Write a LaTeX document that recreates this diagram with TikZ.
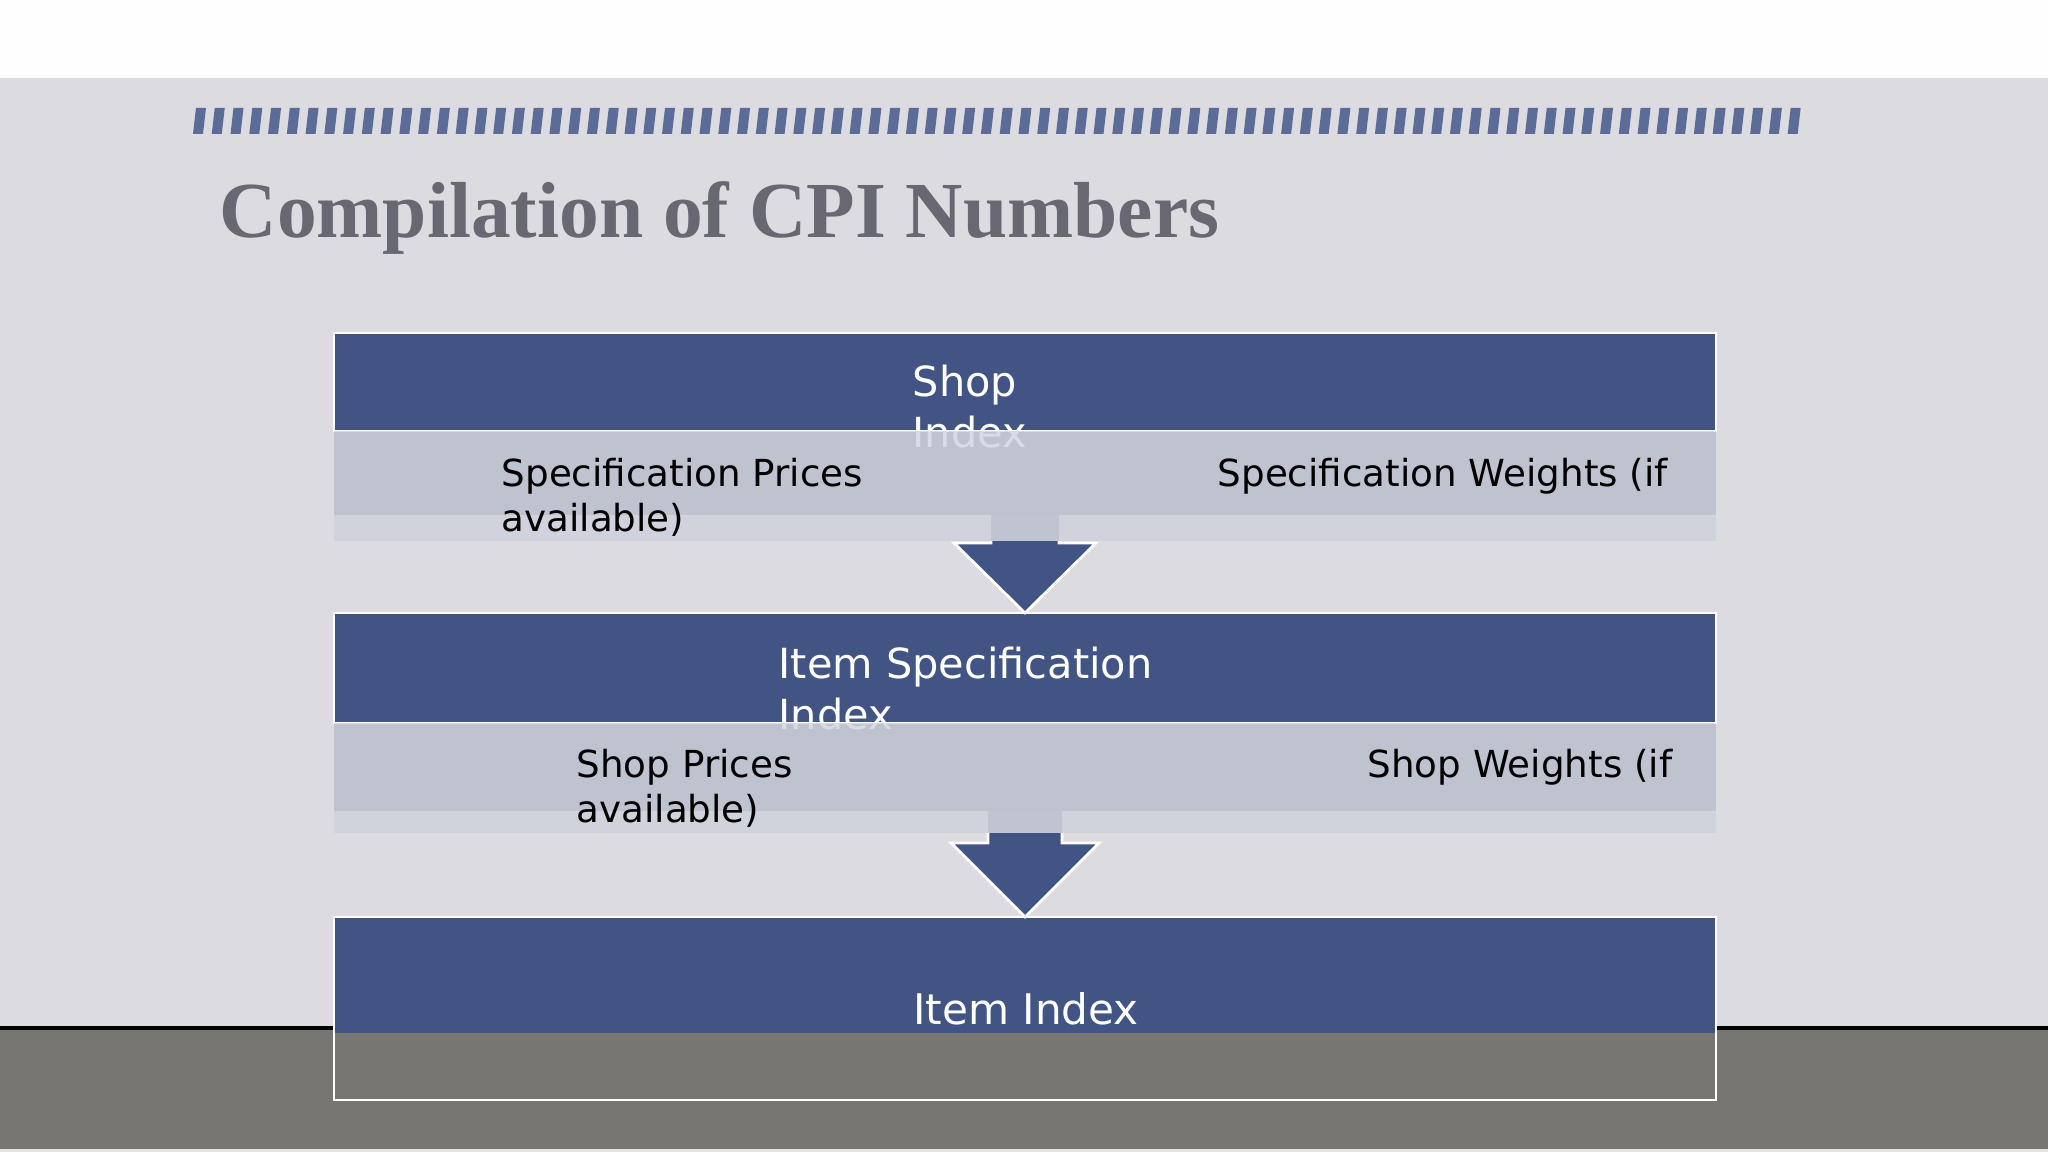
\documentclass[tikz,border=0pt]{standalone}
\usepackage{fontspec}
\setmainfont{DejaVu Sans}
\newfontfamily\titlefont{Liberation Serif}
\usepackage{tikz}
\usetikzlibrary{calc}
\usetikzlibrary{positioning}

\definecolor{panel}{RGB}{220,220,224}
\definecolor{boxblue}{RGB}{65,84,131}
\definecolor{bandtint}{RGB}{127,140,174}
\definecolor{bandmid}{RGB}{192,196,209}
\definecolor{bandlow}{RGB}{208,211,220}
\definecolor{stripe}{RGB}{91,108,152}
\definecolor{titlegray}{RGB}{104,104,114}
\definecolor{floorgray}{RGB}{120,118,115}

\begin{document}
\begin{tikzpicture}[
  darkbox/.style={draw=white, line width=0.7pt, fill=boxblue, minimum width=13.82cm, inner sep=0pt, outer sep=0pt},
  midband/.style={fill=bandtint, fill opacity=0.3, minimum width=13.82cm, inner sep=0pt, outer sep=0pt},
  lowband/.style={fill=bandlow, minimum width=13.82cm, inner sep=0pt, outer sep=0pt},
  whitetxt/.style={text=white, font=\fontsize{11.8}{14.6}\selectfont, align=left, inner sep=0pt},
  blacktxt/.style={text=black, font=\fontsize{10.6}{12.8}\selectfont, align=left, inner sep=0pt},
  arrowhead/.style={fill=boxblue, draw=white, line width=0.8pt},
  arrowstem/.style={fill=bandmid}
]
\useasboundingbox (0,0) rectangle (20.48,11.52);

% background
\fill[white!97!panel] (0,10.74) rectangle (20.48,11.52);
\fill[panel] (0,1.24) rectangle (20.48,10.74);
\fill[floorgray] (0,0) rectangle (20.48,1.24);
\fill[white!80!floorgray] (0,0) rectangle (20.48,0.03);
\draw[black, line width=1pt] (0,1.24) -- (20.48,1.24);

% stripes over the title
\foreach \i in {0,...,85}
  \fill[stripe] ($(1.93,10.18)+(\i*0.1876,0)$) -- ++(0.10,0) -- ++(0.03,0.26) -- ++(-0.10,0) -- cycle;

\node[anchor=base west, inner sep=0pt, text=titlegray, font=\titlefont\bfseries\fontsize{22.6}{27}\selectfont] (title) at (2.19,9.14) {Compilation of CPI Numbers};

% boxes
\node[darkbox, minimum height=0.98cm, anchor=north west] (shopbox) at (3.34,8.19) {};
\node[darkbox, minimum height=1.10cm, anchor=north west] (specbox) at (3.34,5.39) {};
\node[draw=white, line width=0.7pt, minimum width=13.82cm, minimum height=1.83cm, inner sep=0pt, outer sep=0pt, anchor=north west,
  path picture={\fill[boxblue] (path picture bounding box.north west) rectangle ([yshift=-1.16cm]path picture bounding box.north east);}] (itembox) at (3.34,2.35) {};

% base = last line
\node[whitetxt, anchor=base west] (shopidx) at (9.12,7.04) {Shop\\Index};
\node[whitetxt, anchor=base west] (specidx) at (7.78,4.22) {Item Specification\\Index};
\node[whitetxt, anchor=base, font=\fontsize{12}{14}\selectfont] (itemidx) at (10.26,1.27) {Item Index};

% bands under the boxes
\node[midband, minimum height=0.84cm, anchor=north] (shopmid) at (shopbox.south) {};
\node[lowband, minimum height=0.26cm, anchor=north] (shoplow) at (shopmid.south) {};
\node[midband, minimum height=0.88cm, anchor=north] (specmid) at (specbox.south) {};
\node[lowband, minimum height=0.22cm, anchor=north] (speclow) at (specmid.south) {};

% arrows
\filldraw[arrowhead] ($(shoplow.south)+(-0.34,0)$) -- ++(0,-0.02) -- ++(-0.37,0) -- (specbox.north) -- ++(0.71,0.70) -- ++(-0.37,0) -- ++(0,0.02);
\fill[arrowstem] ($(shoplow.north)+(-0.34,0)$) rectangle ($(shoplow.south)+(0.34,0)$);
\filldraw[arrowhead] ($(speclow.south)+(-0.37,0)$) -- ++(0,-0.10) -- ++(-0.37,0) -- (itembox.north) -- ++(0.74,0.74) -- ++(-0.37,0) -- ++(0,0.10);
\fill[arrowstem] ($(speclow.north)+(-0.37,0)$) rectangle ($(speclow.south)+(0.37,0)$);

\node[blacktxt, anchor=base west] (specprice) at (5.01,6.20) {Specification Prices\\available)};
\node[blacktxt, anchor=base west] (specwt) at (12.17,6.65) {Specification Weights (if};
\node[blacktxt, anchor=base west] (shopprice) at (5.76,3.29) {Shop Prices\\available)};
\node[blacktxt, anchor=base west] (shopwt) at (13.67,3.74) {Shop Weights (if};

\end{tikzpicture}
\end{document}
